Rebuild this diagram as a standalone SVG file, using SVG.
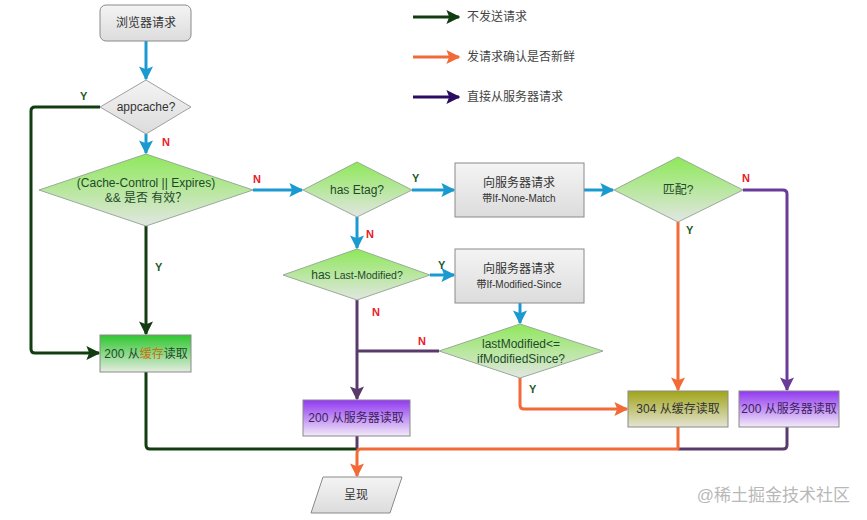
<svg xmlns="http://www.w3.org/2000/svg" width="867" height="520" viewBox="0 0 867 520">
<defs>
<linearGradient id="gGray" x1="0" y1="0" x2="0" y2="1"><stop offset="0" stop-color="#f4f4f4"/><stop offset="1" stop-color="#dcdcdc"/></linearGradient>
<linearGradient id="gDia" x1="0" y1="0" x2="0" y2="1"><stop offset="0" stop-color="#8ee85a"/><stop offset="1" stop-color="#e2e6e2"/></linearGradient>
<linearGradient id="gGreen" x1="0" y1="0" x2="0" y2="1"><stop offset="0" stop-color="#2ec62e"/><stop offset="1" stop-color="#e4ece0"/></linearGradient>
<linearGradient id="gOlive" x1="0" y1="0" x2="0" y2="1"><stop offset="0" stop-color="#a0a418"/><stop offset="1" stop-color="#e4e4d4"/></linearGradient>
<linearGradient id="gPurple" x1="0" y1="0" x2="0" y2="1"><stop offset="0" stop-color="#9038f0"/><stop offset="1" stop-color="#f2eaf8"/></linearGradient>
<marker id="aB2" viewBox="0 0 10 10" refX="9" refY="5" markerWidth="14" markerHeight="14" orient="auto" markerUnits="userSpaceOnUse"><path d="M0,0 L10,5 L0,10 L2,5 Z" fill="#1a9ad0"/></marker>
<marker id="aG" viewBox="0 0 10 10" refX="9" refY="5" markerWidth="14" markerHeight="14" orient="auto" markerUnits="userSpaceOnUse"><path d="M0,0 L10,5 L0,10 L2,5 Z" fill="#113d11"/></marker>
<marker id="aO" viewBox="0 0 10 10" refX="9" refY="5" markerWidth="14" markerHeight="14" orient="auto" markerUnits="userSpaceOnUse"><path d="M0,0 L10,5 L0,10 L2,5 Z" fill="#f26a38"/></marker>
<marker id="aP" viewBox="0 0 10 10" refX="9" refY="5" markerWidth="14" markerHeight="14" orient="auto" markerUnits="userSpaceOnUse"><path d="M0,0 L10,5 L0,10 L2,5 Z" fill="#6a3c9a"/></marker>
<marker id="aPd" viewBox="0 0 10 10" refX="9" refY="5" markerWidth="14" markerHeight="14" orient="auto" markerUnits="userSpaceOnUse"><path d="M0,0 L10,5 L0,10 L2,5 Z" fill="#5a3a6a"/></marker>
<marker id="aL" viewBox="0 0 10 10" refX="9" refY="5" markerWidth="14" markerHeight="14" orient="auto" markerUnits="userSpaceOnUse"><path d="M0,0 L10,5 L0,10 L2,5 Z" fill="#2a0c60"/></marker>
</defs>
<style>
text{font-family:"Liberation Sans","Noto Sans CJK SC",sans-serif;}
.t{font-size:12px;fill:#333;text-anchor:middle;}
.dt{font-size:12px;fill:#1e4a2a;text-anchor:middle;}
.box{stroke:#8a8a8a;stroke-width:1;}
.dia{fill:url(#gDia);stroke:#9aaa9a;stroke-width:1;}
.lb{font-size:11px;font-weight:bold;}
.Y{fill:#1c5a2a;}
.N{fill:#e8202a;}
.c{fill:none;stroke-width:3;stroke-linejoin:round;}
.blue{stroke:#1a9ad0;}
.dg{stroke:#113d11;}
.or{stroke:#f26a38;}
.pu{stroke:#6a3c9a;}
.pd{stroke:#5a3a6a;}
</style>
<rect width="867" height="520" fill="#ffffff"/>

<g id="connectors">
<path class="c blue" d="M146,41 V79" marker-end="url(#aB2)"/>
<path class="c blue" d="M146,134 V153" marker-end="url(#aB2)"/>
<path class="c blue" d="M253,190 H302" marker-end="url(#aB2)"/>
<path class="c blue" d="M412,190 H454" marker-end="url(#aB2)"/>
<path class="c blue" d="M584,190 H613" marker-end="url(#aB2)"/>
<path class="c blue" d="M357,217 V248" marker-end="url(#aB2)"/>
<path class="c blue" d="M430,275 H454" marker-end="url(#aB2)"/>
<path class="c blue" d="M520,303 V323" marker-end="url(#aB2)"/>
<path class="c dg" d="M100,107 H35 Q31,107 31,111 V349 Q31,353 35,353 H99" marker-end="url(#aG)"/>
<path class="c dg" d="M146,226 V334" marker-end="url(#aG)"/>
<path class="c dg" d="M146,372 V445 Q146,449 150,449 H357"/>
<path class="c pd" d="M357,300 V399" marker-end="url(#aPd)"/>
<path class="c pd" d="M439,351 H357"/>
<path class="c pd" d="M357,436 V449"/>
<path class="c or" d="M520,378 V405 Q520,409 524,409 H627" marker-end="url(#aO)"/>
<path class="c or" d="M678,222 V390" marker-end="url(#aO)"/>
<path class="c pu" d="M743,190 H783 Q787,190 787,194 V390" marker-end="url(#aP)"/>
<path class="c pd" d="M787,427 V445 Q787,449 783,449 H678"/>
<path class="c or" d="M678,427 V449 H361 Q357,449 357,453 V476" marker-end="url(#aO)"/>
</g>

<g id="legend">
<path class="c dg" d="M413,17 H459" marker-end="url(#aG)"/>
<text x="467" y="21" style="font-size:12px;fill:#444">不发送请求</text>
<path class="c or" d="M413,57 H459" marker-end="url(#aO)"/>
<text x="467" y="61" style="font-size:12px;fill:#444">发请求确认是否新鲜</text>
<path class="c" d="M413,97 H459" stroke="#2a0c60" marker-end="url(#aL)"/>
<text x="467" y="101" style="font-size:12px;fill:#444">直接从服务器请求</text>
</g>

<g id="start">
<rect class="box" x="100" y="5" width="91" height="36" rx="6" fill="url(#gGray)"/>
<text class="t" x="146" y="27">浏览器请求</text>
</g>

<g id="appcache">
<polygon points="146,80 191,107 146,134 100,107" fill="url(#gGray)" stroke="#a0a0a0"/>
<text class="t" x="146" y="111">appcache?</text>
</g>
<text class="lb Y" x="80" y="100">Y</text>
<text class="lb N" x="162" y="146">N</text>

<g id="cachecontrol">
<polygon class="dia" points="146,154 253,190 146,226 39,190"/>
<text class="dt" x="146" y="187">(Cache-Control || Expires)</text>
<text class="dt" x="146" y="202">&amp;&amp; 是否 有效？</text>
</g>
<text class="lb N" x="253" y="183">N</text>
<text class="lb Y" x="155" y="271">Y</text>

<g id="etag">
<polygon class="dia" points="357,162 412,190 357,217 303,190"/>
<text class="dt" x="357" y="194">has Etag?</text>
</g>
<text class="lb Y" x="412" y="182">Y</text>
<text class="lb N" x="366" y="238">N</text>

<g id="req-etag">
<rect class="box" x="455" y="163" width="129" height="54" fill="url(#gGray)"/>
<text class="t" x="519" y="187">向服务器请求</text>
<text class="t" x="519" y="202" style="font-size:10px">带If-None-Match</text>
</g>

<g id="match">
<polygon class="dia" points="678,157 743,190 678,222 614,190"/>
<text class="dt" x="678" y="194">匹配?</text>
</g>
<text class="lb N" x="742" y="182">N</text>
<text class="lb Y" x="686" y="234">Y</text>

<g id="lastmod">
<polygon class="dia" points="357,249 430,275 357,300 283,275"/>
<text class="dt" x="357" y="279">has <tspan style="font-size:10.5px">Last-Modified?</tspan></text>
</g>
<text class="lb Y" x="438" y="269">Y</text>
<text class="lb N" x="372" y="316">N</text>

<g id="req-lastmod">
<rect class="box" x="455" y="249" width="129" height="54" fill="url(#gGray)"/>
<text class="t" x="519" y="273">向服务器请求</text>
<text class="t" x="519" y="288" style="font-size:10px">带If-Modified-Since</text>
</g>

<g id="compare">
<polygon class="dia" points="520,324 603,351 520,378 439,351"/>
<text class="dt" x="521" y="348">lastModified&lt;=</text>
<text class="dt" x="521" y="363">ifModifiedSince?</text>
</g>
<text class="lb N" x="418" y="345">N</text>
<text class="lb Y" x="529" y="393">Y</text>

<g id="cache200">
<rect class="box" x="100" y="335" width="91" height="37" fill="url(#gGreen)"/>
<text x="146" y="358" style="font-size:12px;text-anchor:middle;fill:#1e4a2a">200 从<tspan fill="#c8700c">缓存</tspan>读取</text>
</g>

<g id="server200a">
<rect class="box" x="303" y="400" width="107" height="36" fill="url(#gPurple)"/>
<text x="356" y="422" style="font-size:12px;text-anchor:middle;fill:#3e2060">200 从服务器读取</text>
</g>

<g id="cache304">
<rect class="box" x="628" y="391" width="100" height="36" fill="url(#gOlive)"/>
<text x="678" y="413" style="font-size:12px;text-anchor:middle;fill:#333">304 从缓存读取</text>
</g>

<g id="server200b">
<rect class="box" x="739" y="391" width="100" height="36" fill="url(#gPurple)"/>
<text x="789" y="413" style="font-size:12px;text-anchor:middle;fill:#3e2060">200 从服务器读取</text>
</g>

<g id="render">
<polygon points="323,477 402,477 390,513 311,513" fill="url(#gGray)" stroke="#8a8a8a"/>
<text class="t" x="356" y="499">呈现</text>
</g>

<text x="850" y="501" style="font-size:17px;fill:#b8b8b8;text-anchor:end">@稀土掘金技术社区</text>
</svg>
